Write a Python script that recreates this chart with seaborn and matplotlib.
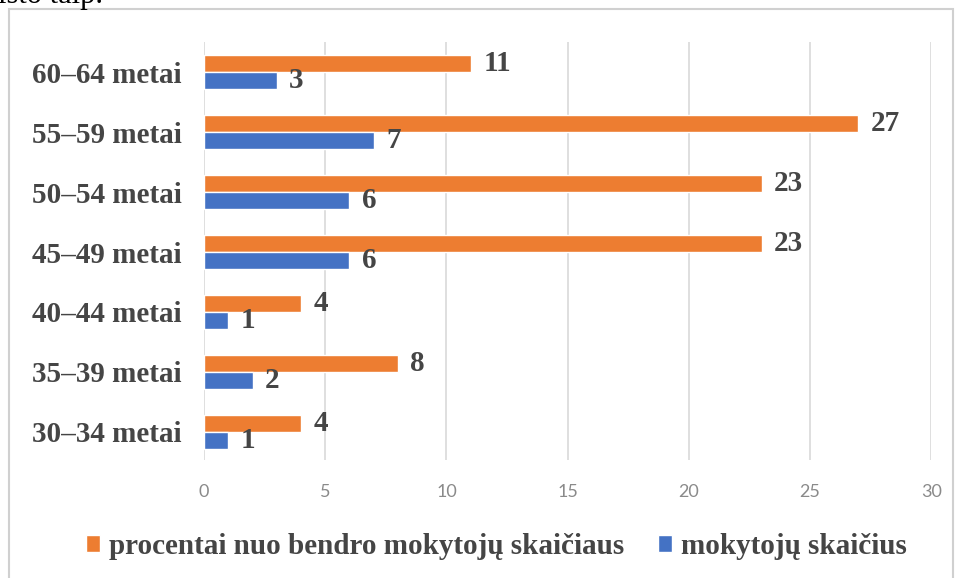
import numpy as np
import pandas as pd
import matplotlib.pyplot as plt
import seaborn as sns
from matplotlib.patches import Rectangle

# duomenys (nuo virsaus i apacia)
amzius = ['60–64 metai', '55–59 metai', '50–54 metai', '45–49 metai',
          '40–44 metai', '35–39 metai', '30–34 metai']
procentai = [11, 27, 23, 23, 4, 8, 4]
mokytoju_sk = [3, 7, 6, 6, 1, 2, 1]
serijos = ['procentai nuo bendro mokytojų skaičiaus', 'mokytojų skaičius']

df = pd.DataFrame({
    'amzius': amzius * 2,
    'reiksme': procentai + mokytoju_sk,
    'serija': [serijos[0]] * len(amzius) + [serijos[1]] * len(amzius),
})

sns.set_style('white')

SERIF = {'family': 'Liberation Serif', 'weight': 'bold', 'size': 21}
TXT = '#454545'

fig = plt.figure(figsize=(9.58, 5.78), dpi=100)
ax = fig.add_axes([0.213, 0.204, 0.759, 0.723])

sns.barplot(data=df, y='amzius', x='reiksme', hue='serija', order=amzius,
            hue_order=serijos, palette=['#ED7D31', '#4472C4'], orient='h',
            width=0.56, saturation=1, ax=ax)

for cont in ax.containers:
    ax.bar_label(cont, labels=[str(int(v)) for v in cont.datavalues], padding=9,
                 fontsize=21, fontweight='bold', family='Liberation Serif', color=TXT)

ax.set_xlim(0, 30)
ax.set_xticks(range(0, 31, 5))
ax.set_ylim(6.47, -0.5)
ax.grid(axis='x', color='#d9d9d9', linewidth=1.2)
ax.set_axisbelow(True)
for s in ax.spines.values():
    s.set_visible(False)
ax.set_xlabel('')
ax.set_ylabel('')
ax.tick_params(axis='x', length=0, pad=17, labelsize=13, labelcolor='#8a8a8a')
ax.tick_params(axis='y', length=0, pad=16)
for t in ax.get_xticklabels():
    t.set_fontfamily('Lato')
for t in ax.get_yticklabels():
    t.set_fontfamily('Liberation Serif')
    t.set_fontweight('bold')
    t.set_fontsize(21)
    t.set_color(TXT)

ax.legend_.remove()
h, l = ax.get_legend_handles_labels()
leg = fig.legend(h, l, loc='center', bbox_to_anchor=(0.518, 0.055), ncol=2,
                 frameon=False, handlelength=0.5, handleheight=0.5,
                 handletextpad=0.3, columnspacing=1.15, prop=SERIF)
for t in leg.get_texts():
    t.set_color(TXT)

# remelis aplink diagrama
fig.patches.append(Rectangle((0.009, -0.01), 0.986, 0.995, transform=fig.transFigure,
                             fill=False, edgecolor='#d0d0d0', linewidth=1.5))
fig.text(-0.002, 1 - 3 / 578, 'isto talp.', family='Liberation Serif', fontsize=22,
         ha='left', va='baseline', color='black')

fig.savefig('out.png', dpi=100)
